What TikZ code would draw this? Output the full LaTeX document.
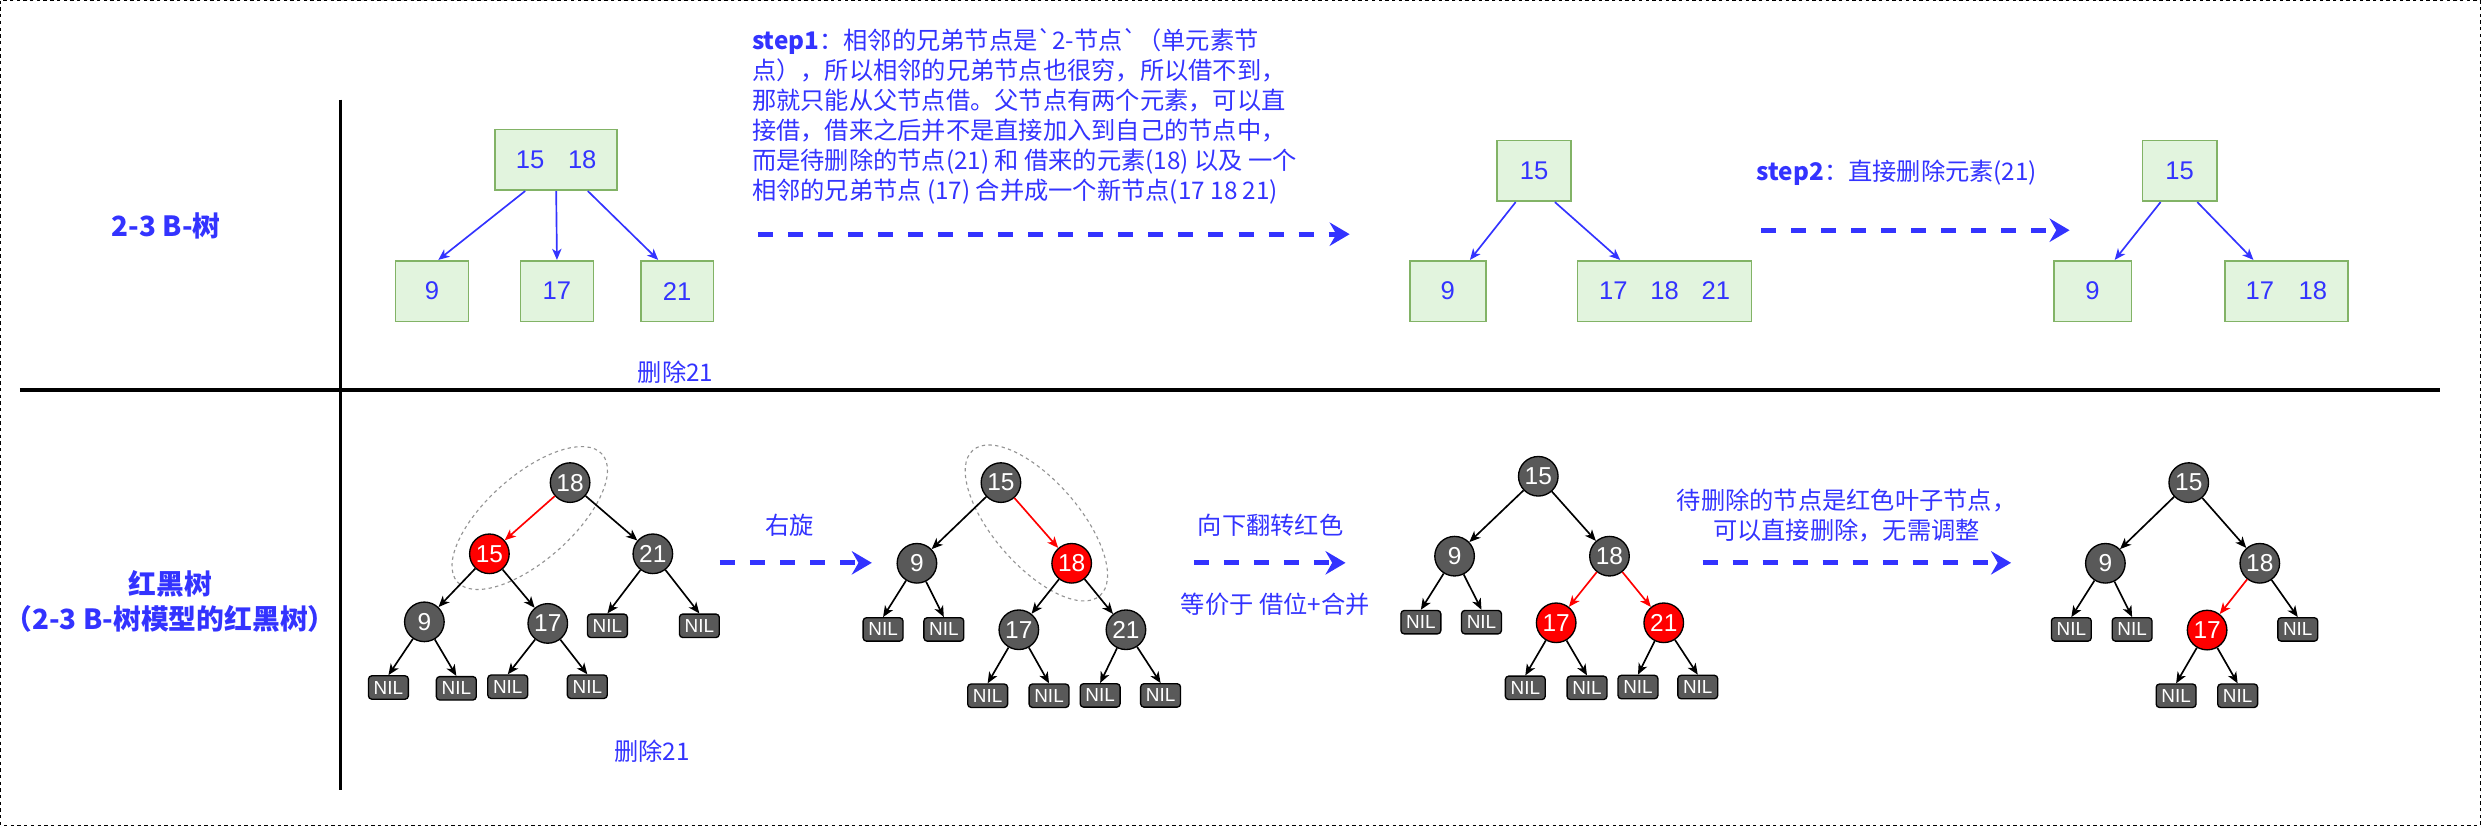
\documentclass[tikz,border=0pt]{standalone}
\usepackage{fontspec}
\newfontfamily\cjk{Noto Sans CJK SC}
\newfontfamily\arial{Liberation Sans}
\usetikzlibrary{arrows.meta}

\definecolor{ablue}{HTML}{3333FF}
\definecolor{bfill}{HTML}{E2F4DE}
\definecolor{bline}{HTML}{82B366}
\definecolor{rbgray}{HTML}{595959}
\definecolor{rbred}{HTML}{FF0000}

\begin{document}
\begin{tikzpicture}[x=0.025cm,y=-0.025cm,
  b node/.style={draw=bline,fill=bfill,text=ablue,line width=0.75pt,
    minimum width=1.15cm,minimum height=0.96cm,inner sep=0pt,
    font=\arial\fontsize{11.5}{13}\selectfont},
  rb node/.style={circle,draw=black,fill=rbgray,text=white,line width=0.6pt,
    minimum size=0.625cm,inner sep=0pt,font=\arial\fontsize{11}{13}\selectfont},
  red node/.style={rb node,fill=rbred},
  nil node/.style={draw=black,fill=rbgray,text=white,rounded corners=1.5pt,line width=0.6pt,
    minimum width=0.63cm,minimum height=0.37cm,inner sep=0pt,font=\arial\fontsize{8.5}{9}\selectfont},
  link/.style={-{Stealth[length=5pt,width=4.2pt,inset=1.4pt]},line width=0.75pt},
  blue link/.style={link,ablue},
  red link/.style={link,rbred},
  dash arrow/.style={-{Stealth[length=9pt,width=10.5pt,inset=3pt]},ablue,line width=2.1pt,
    dash pattern=on 6.75pt off 6.75pt},
  note/.style={text=ablue,inner sep=0pt,font=\cjk\fontsize{10.9}{13.5}\selectfont},
  title/.style={text=ablue,align=center,inner sep=0pt,font=\cjk\bfseries\fontsize{12.5}{15.7}\selectfont},
  group ring/.style={draw=gray!85,dash pattern=on 1.5pt off 1.5pt,line width=0.5pt}]

  \useasboundingbox (0,0) rectangle (1568,522);
  \draw[dash pattern=on 1.5pt off 1.5pt,line width=0.5pt] (0.5,0.5) rectangle (1567.5,521.5);
  \draw[line width=1.5pt] (215,63) -- (215,499);
  \draw[line width=1.5pt] (12.6,246.5) -- (1542,246.5);

  \node[title] (bt) at (105,143) {2-3 B-树};
  \node[title] (rbt) at (107.5,380) {红黑树\\（2-3 B-树模型的红黑树）};

  \node[b node,minimum width=1.925cm] (t1) at (351.5,101) {15\hspace{0.375cm}18};
  \node[b node] (t1a) at (273,184) {9};
  \node[b node] (t1b) at (352,184) {17};
  \node[b node] (t1c) at (428,184) {21};

  \node[b node,minimum width=1.175cm] (t2) at (969.5,108) {15};
  \node[b node,minimum width=1.2cm] (t2a) at (915,184) {9};
  \node[b node,minimum width=2.75cm] (t2b) at (1052,184) {17\hspace{0.36cm}18\hspace{0.36cm}21};

  \node[b node,minimum width=1.175cm] (t3) at (1377.5,108) {15};
  \node[b node,minimum width=1.225cm] (t3a) at (1322.5,184) {9};
  \node[b node,minimum width=1.95cm] (t3b) at (1445,184) {17\hspace{0.39cm}18};

  \path[blue link]
    ([xshift=-0.49cm]t1.south) edge ([xshift=0.1cm]t1a.north)
    (t1.south) edge (t1b.north)
    ([xshift=0.5cm]t1.south) edge ([xshift=-0.3cm]t1c.north)
    ([xshift=-0.29cm]t2.south) edge ([xshift=0.35cm]t2a.north)
    ([xshift=0.33cm]t2.south) edge ([xshift=-0.7cm]t2b.north)
    ([xshift=-0.3cm]t3.south) edge ([xshift=0.35cm]t3a.north)
    ([xshift=0.28cm]t3.south) edge ([xshift=-0.52cm]t3b.north);

  \node[note,align=left,anchor=west] (s1) at (475,73.7) {\textbf{step1}：相邻的兄弟节点是`2-节点`（单元素节\\
    点），所以相邻的兄弟节点也很穷，所以借不到，\\
    那就只能从父节点借。父节点有两个元素，可以直\\
    接借，借来之后并不是直接加入到自己的节点中，\\
    而是待删除的节点(21) 和 借来的元素(18) 以及 一个\\
    相邻的兄弟节点 (17) 合并成一个新节点(17 18 21)};
  \node[note,anchor=west] (s2) at (1110,109) {\textbf{step2}：直接删除元素(21)};
  \node[note] (del1) at (427,235) {删除21};

  \coordinate (p1) at (479,148);
  \coordinate (q1) at (853,148);
  \coordinate (p2) at (1113,145.5);
  \coordinate (q2) at (1308,145.5);
  \draw[dash arrow] (p1) -- (q1);
  \draw[dash arrow] (p2) -- (q2);

  \node[rb node] (a18) at (360.3,305) {18};
  \node[red node] (a15) at (309.3,350) {15};
  \node[rb node] (a21) at (412.6,350) {21};
  \node[rb node] (a9) at (268.2,393) {9};
  \node[rb node] (a17) at (346.2,394) {17};
  \node[nil node] (a21l) at (383.9,395.5) {NIL};
  \node[nil node] (a21r) at (442,395.5) {NIL};
  \node[nil node] (a9l) at (245.5,434.5) {NIL};
  \node[nil node] (a9r) at (288.4,435) {NIL};
  \node[nil node] (a17l) at (320.9,434) {NIL};
  \node[nil node] (a17r) at (371.2,434) {NIL};
  \draw[group ring,rotate around={41.4:(334.8,327.4)}] (334.8,327.4) ellipse (1.525cm and 0.675cm);

  \path[link]
    (a18) edge (a21)
    (a15) edge (a9)
    (a15) edge (a17)
    (a21) edge (a21l.north)
    (a21) edge (a21r.north)
    (a9) edge (a9l.north)
    (a9) edge (a9r.north)
    (a17) edge (a17l.north)
    (a17) edge (a17r.north);
  \path[red link] (a18) edge (a15);
  \node[note] (del2) at (412,475) {删除21};

  \node[note] (rot) at (499,332) {右旋};
  \coordinate (p3) at (455,355.7);
  \coordinate (q3) at (551,355.7);
  \draw[dash arrow] (p3) -- (q3);

  \node[rb node] (b15) at (632.6,305) {15};
  \node[rb node] (b9) at (579.5,356) {9};
  \node[red node] (b18) at (677.3,356) {18};
  \node[nil node] (b9l) at (558.1,397.8) {NIL};
  \node[nil node] (b9r) at (596.5,397.8) {NIL};
  \node[rb node] (b17) at (643.9,398) {17};
  \node[rb node] (b21) at (711.6,398) {21};
  \node[nil node] (b17l) at (624.2,439.7) {NIL};
  \node[nil node] (b17r) at (663,439.7) {NIL};
  \node[nil node] (b21l) at (695.3,439.5) {NIL};
  \node[nil node] (b21r) at (733.5,439.5) {NIL};
  \draw[group ring,rotate around={-48.9:(655,330.5)}] (655,330.5) ellipse (1.525cm and 0.675cm);

  \path[link]
    (b15) edge (b9)
    (b9) edge (b9l.north)
    (b9) edge (b9r.north)
    (b18) edge (b17)
    (b18) edge (b21)
    (b17) edge (b17l.north)
    (b17) edge (b17r.north)
    (b21) edge (b21l.north)
    (b21) edge (b21r.north);
  \path[red link] (b15) edge (b18);

  \node[note] (flip) at (803,332) {向下翻转红色};
  \node[note] (eq) at (806,382) {等价于 借位+合并};
  \coordinate (p4) at (754.5,355.7);
  \coordinate (q4) at (850.4,355.7);
  \draw[dash arrow] (p4) -- (q4);

  \node[rb node] (c15) at (972.2,301) {15};
  \node[rb node] (c9) at (919.3,351.5) {9};
  \node[rb node] (c18) at (1017.2,351.5) {18};
  \node[nil node] (c9l) at (898,393.2) {NIL};
  \node[nil node] (c9r) at (936.3,393.2) {NIL};
  \node[red node] (c17) at (983.5,393.6) {17};
  \node[red node] (c21) at (1051.5,393.6) {21};
  \node[nil node] (c17l) at (964,434.7) {NIL};
  \node[nil node] (c17r) at (1003,434.7) {NIL};
  \node[nil node] (c21l) at (1035.2,434.2) {NIL};
  \node[nil node] (c21r) at (1073,434.2) {NIL};

  \path[link]
    (c15) edge (c9)
    (c15) edge (c18)
    (c9) edge (c9l.north)
    (c9) edge (c9r.north)
    (c17) edge (c17l.north)
    (c17) edge (c17r.north)
    (c21) edge (c21l.north)
    (c21) edge (c21r.north);
  \path[red link] (c18) edge (c17) (c18) edge (c21);

  \node[note,align=center] (rm) at (1167,326) {待删除的节点是红色叶子节点，\\可以直接删除，无需调整};
  \coordinate (p5) at (1076,355.7);
  \coordinate (q5) at (1271,355.7);
  \draw[dash arrow] (p5) -- (q5);

  \node[rb node] (d15) at (1383.3,305) {15};
  \node[rb node] (d9) at (1330.6,356) {9};
  \node[rb node] (d18) at (1428.2,356) {18};
  \node[nil node] (d9l) at (1309.1,397.8) {NIL};
  \node[nil node] (d9r) at (1347.5,397.8) {NIL};
  \node[red node] (d17) at (1394.9,398.2) {17};
  \node[nil node] (d18r) at (1452.2,397.8) {NIL};
  \node[nil node] (d17l) at (1375.3,439.7) {NIL};
  \node[nil node] (d17r) at (1414.2,439.7) {NIL};

  \path[link]
    (d15) edge (d9)
    (d15) edge (d18)
    (d9) edge (d9l.north)
    (d9) edge (d9r.north)
    (d18) edge (d18r.north)
    (d17) edge (d17l.north)
    (d17) edge (d17r.north);
  \path[red link] (d18) edge (d17);
\end{tikzpicture}
\end{document}
